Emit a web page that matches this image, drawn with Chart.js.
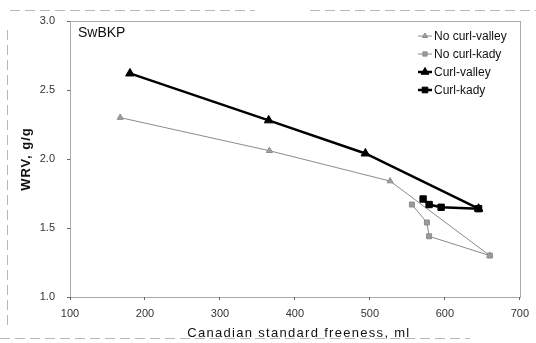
<!DOCTYPE html>
<html>
<head>
<meta charset="utf-8">
<script src="https://cdn.jsdelivr.net/npm/chart.js@4"></script>
<style>
  html, body { margin: 0; padding: 0; background: #fff; }
  #wrap { width: 536px; height: 343px; }
</style>
</head>
<body>
<div id="wrap"><canvas id="wrv"></canvas></div>
<script>
// --- dati (freeness ml, WRV g/g) ---
const noCurlValleyX = [167, 366, 527, 660];
const noCurlValleyY = [2.30, 2.06, 1.84, 1.30];
const noCurlKadyX = [556, 576, 579, 660];
const noCurlKadyY = [1.67, 1.54, 1.44, 1.30];
const curlValleyX = [180, 365, 494, 645];
const curlValleyY = [2.62, 2.28, 2.04, 1.64];
const curlKadyX = [571, 579, 595, 645];
const curlKadyY = [1.71, 1.67, 1.65, 1.64];
const xTicks = [100, 200, 300, 400, 500, 600, 700];
const yTicks = [1.0, 1.5, 2.0, 2.5, 3.0];
const seriesNames = ['No curl-valley', 'No curl-kady', 'Curl-valley', 'Curl-kady'];
const xTitle = 'Canadian standard freeness, ml';
const yTitle = 'WRV, g/g';
const panelTitle = 'SwBKP';

const FONT = "'Liberation Sans', Arial, sans-serif";

function pts(xs, ys) {
  return xs.map((x, i) => ({ x, y: ys[i] }));
}

const series = [
  { data: pts(noCurlValleyX, noCurlValleyY), color: '#8a8a8a', fill: '#a0a0a0', width: 1, style: 'triangle', r: 3.5 },
  { data: pts(noCurlKadyX, noCurlKadyY), color: '#8a8a8a', fill: '#9a9a9a', width: 1, style: 'rect', r: 3.5 },
  { data: pts(curlValleyX, curlValleyY), color: '#000', fill: '#000', width: 2.5, style: 'triangle', r: 5 },
  { data: pts(curlKadyX, curlKadyY), color: '#000', fill: '#000', width: 2.5, style: 'rect', r: 4.5 }
];

// cornice tratteggiata della scansione + bordo dell'area + titoli + legenda interna
const decoPlugin = {
  id: 'deco',
  beforeDraw(chart) {
    const c = chart.ctx;
    c.save();
    c.strokeStyle = '#b8b8b8';
    c.lineWidth = 1;
    c.setLineDash([10, 5]);
    c.beginPath();
    c.moveTo(10, 10.5); c.lineTo(255, 10.5);
    c.moveTo(310, 10.5); c.lineTo(536, 10.5);
    c.moveTo(7.5, 30); c.lineTo(7.5, 330);
    c.moveTo(0, 338.5); c.lineTo(470, 338.5);
    c.stroke();
    c.restore();
  },
  afterDraw(chart) {
    const c = chart.ctx;
    const a = chart.chartArea;
    c.save();
    c.strokeStyle = '#555';
    c.lineWidth = 1;
    c.setLineDash([1, 1]);
    c.strokeRect(Math.round(a.left) + 0.5, Math.round(a.top) + 0.5,
      Math.round(a.right - a.left), Math.round(a.bottom - a.top));
    c.setLineDash([]);

    // titoli degli assi, con spaziatura tra le lettere come nell'originale
    c.fillStyle = '#111';
    c.textBaseline = 'middle';
    c.textAlign = 'center';
    c.font = '13px ' + FONT;
    c.letterSpacing = '1.3px';
    c.fillText(xTitle, (a.left + a.right) / 2 + 4, 333);
    c.save();
    c.translate(26, (a.top + a.bottom) / 2);
    c.rotate(-Math.PI / 2);
    c.font = 'bold 13px ' + FONT;
    c.letterSpacing = '1px';
    c.fillText(yTitle, 0, 0);
    c.restore();
    c.letterSpacing = '0px';

    // titolo nel riquadro
    c.textAlign = 'left';
    c.font = '14px ' + FONT;
    c.fillText(panelTitle, a.left + 8, a.top + 12);

    // legenda
    c.font = '12px ' + FONT;
    series.forEach((s, i) => {
      const y = a.top + 15 + i * 18;
      const x0 = 418;
      c.strokeStyle = s.color;
      c.lineWidth = s.width;
      c.beginPath();
      c.moveTo(x0, y); c.lineTo(x0 + 14, y);
      c.stroke();
      c.fillStyle = s.fill;
      c.strokeStyle = s.color;
      c.lineWidth = 1;
      Chart.helpers.drawPoint(c, { pointStyle: s.style, radius: s.r - 0.5, borderWidth: 1 }, x0 + 7, y);
      c.fillStyle = '#111';
      c.fillText(seriesNames[i], x0 + 16, y + 1);
    });
    c.restore();
  }
};

const chart = new Chart(document.getElementById('wrv'), {
  type: 'scatter',
  data: {
    datasets: series.map((s, i) => ({
      label: seriesNames[i],
      data: s.data,
      showLine: true,
      borderColor: s.color,
      borderWidth: s.width,
      backgroundColor: s.fill,
      pointStyle: s.style,
      pointRadius: s.r,
      pointBorderColor: s.color,
      pointBackgroundColor: s.fill,
      pointBorderWidth: 1,
      order: 4 - i
    }))
  },
  options: {
    responsive: true,
    maintainAspectRatio: false,
    animation: false,
    layout: { padding: { top: 21, right: 10, left: 0, bottom: 0 } },
    plugins: {
      legend: { display: false },
      tooltip: { enabled: false }
    },
    scales: {
      x: {
        type: 'linear',
        min: 100, max: 700,
        afterBuildTicks: ax => { ax.ticks = xTicks.map(v => ({ value: v })); },
        afterFit: ax => { ax.height = 46; },
        grid: { drawOnChartArea: false, drawTicks: true, tickLength: 3, color: '#666' },
        border: { display: false },
        ticks: { color: '#333', font: { family: FONT, size: 11 }, padding: 7 }
      },
      y: {
        min: 1.0, max: 3.0,
        afterBuildTicks: ax => { ax.ticks = yTicks.map(v => ({ value: v })); },
        afterFit: ax => { ax.width = 70; },
        grid: { drawOnChartArea: false, drawTicks: true, tickLength: 3, color: '#666' },
        border: { display: false },
        ticks: { color: '#333', font: { family: FONT, size: 11 }, padding: 12, callback: v => v.toFixed(1) }
      }
    }
  },
  plugins: [decoPlugin]
});
</script>
</body>
</html>
